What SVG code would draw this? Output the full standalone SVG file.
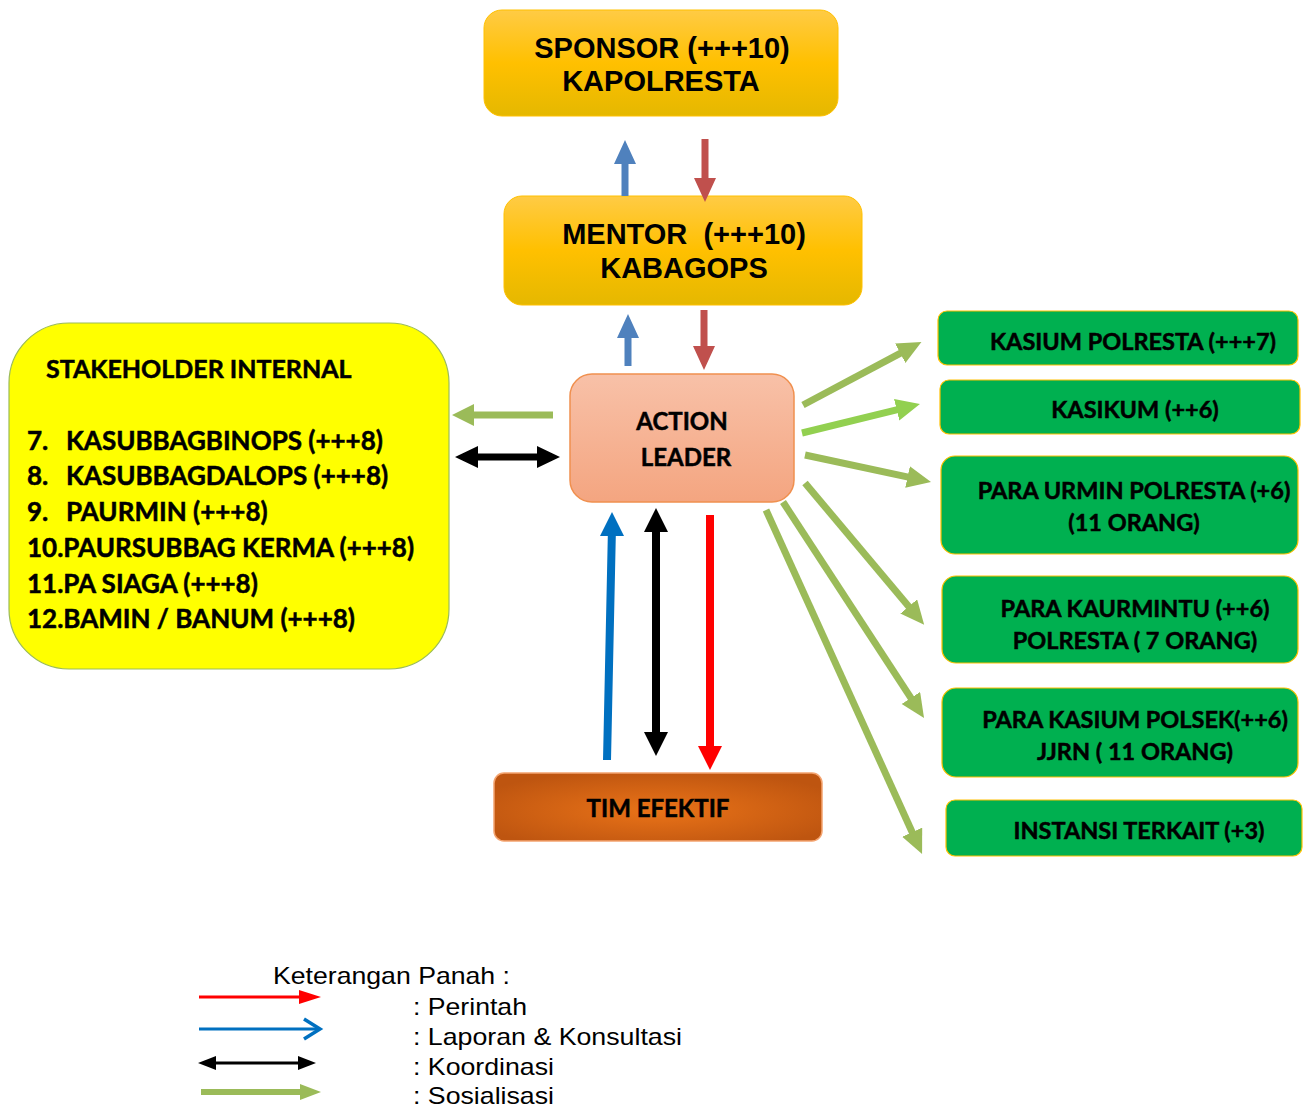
<svg xmlns="http://www.w3.org/2000/svg" width="1304" height="1110" viewBox="0 0 1304 1110">
<defs>
<linearGradient id="gGold" x1="0" y1="0" x2="0" y2="1">
<stop offset="0" stop-color="#FFCB45"/>
<stop offset="0.5" stop-color="#FFC000"/>
<stop offset="1" stop-color="#E5B800"/>
</linearGradient>
<linearGradient id="gPeach" x1="0" y1="0" x2="0" y2="1">
<stop offset="0" stop-color="#F8C1A8"/>
<stop offset="1" stop-color="#F4A580"/>
</linearGradient>
<radialGradient id="gTim" cx="0.5" cy="0.55" r="0.6">
<stop offset="0" stop-color="#EA7318"/>
<stop offset="1" stop-color="#BE5510"/>
</radialGradient>
<marker id="mGreen" markerUnits="userSpaceOnUse" markerWidth="24" markerHeight="24" refX="2" refY="11" orient="auto"><path d="M0,0 L24,11 L0,22 z" fill="#9BBB59"/></marker>
<marker id="mLime" markerUnits="userSpaceOnUse" markerWidth="24" markerHeight="24" refX="2" refY="11" orient="auto"><path d="M0,0 L24,11 L0,22 z" fill="#92D050"/></marker>
<marker id="mLegRed" markerUnits="userSpaceOnUse" markerWidth="24" markerHeight="16" refX="1" refY="7" orient="auto"><path d="M0,0 L22,7 L0,14 z" fill="#FF0000"/></marker>
<marker id="mLegBlack" markerUnits="userSpaceOnUse" markerWidth="22" markerHeight="16" refX="1" refY="7" orient="auto-start-reverse"><path d="M0,0 L18,7 L0,14 z" fill="#000000"/></marker>
<marker id="mLegGreen" markerUnits="userSpaceOnUse" markerWidth="24" markerHeight="18" refX="1" refY="8" orient="auto"><path d="M0,0 L21,8 L0,16 z" fill="#9BBB59"/></marker>
</defs>
<style>
.t1{font-family:"Liberation Sans",Arial,sans-serif;font-weight:bold;font-size:29px;fill:#000;text-anchor:middle}
.t2{font-family:Lato,"Open Sans",sans-serif;font-weight:bold;font-size:24px;fill:#000;stroke:#000;stroke-width:0.5}
.t3{font-size:26px}
.t4{font-size:25px}
.tg{font-size:23.5px}
.tc{text-anchor:middle}
.gbox{fill:#00B050;stroke:#FFC000;stroke-width:1.2}
.leg{font-family:"Liberation Sans",Arial,sans-serif;font-size:24px;fill:#000}
.gr{stroke:#9BBB59;stroke-width:7;fill:none;marker-end:url(#mGreen)}
</style>

<g id="sponsor">
<rect x="484" y="10" width="354" height="106" rx="18" fill="url(#gGold)" stroke="#FFC000" stroke-width="1"/>
<text class="t1" x="662" y="58">SPONSOR (+++10)</text>
<text class="t1" x="661" y="91">KAPOLRESTA</text>
</g>

<g id="mentor">
<rect x="504" y="196" width="358" height="109" rx="18" fill="url(#gGold)" stroke="#FFC000" stroke-width="1"/>
<text class="t1" x="684" y="244" xml:space="preserve">MENTOR  (+++10)</text>
<text class="t1" x="684" y="278">KABAGOPS</text>
</g>

<g id="action-leader">
<rect x="570" y="374" width="224" height="128" rx="22" fill="url(#gPeach)" stroke="#F0904F" stroke-width="1.5"/>
<text class="t2 tc" x="682" y="430">ACTION</text>
<text class="t2 tc" x="686" y="466">LEADER</text>
</g>

<g id="tim-efektif">
<rect x="494" y="773" width="328" height="68" rx="10" fill="url(#gTim)" stroke="#F4A470" stroke-width="1.5"/>
<text class="t2 tc" x="658" y="817">TIM EFEKTIF</text>
</g>

<g id="stakeholder">
<rect x="9" y="323" width="440" height="346" rx="60" fill="#FFFF00" stroke="#9BBB59" stroke-width="1.2"/>
<text class="t2 t4" x="46" y="378">STAKEHOLDER INTERNAL</text>
<text class="t2 t3" x="27" y="450">7.</text><text class="t2 t3" x="66" y="450">KASUBBAGBINOPS (+++8)</text>
<text class="t2 t3" x="27" y="485">8.</text><text class="t2 t3" x="66" y="485">KASUBBAGDALOPS (+++8)</text>
<text class="t2 t3" x="27" y="521">9.</text><text class="t2 t3" x="66" y="521">PAURMIN (+++8)</text>
<text class="t2 t3" x="27" y="557">10.PAURSUBBAG KERMA (+++8)</text>
<text class="t2 t3" x="27" y="593">11.PA SIAGA (+++8)</text>
<text class="t2 t3" x="27" y="628">12.BAMIN / BANUM (+++8)</text>
</g>

<g id="kasium-polresta">
<rect class="gbox" x="938" y="311" width="360" height="54" rx="9"/>
<text class="t2 tg tc" x="1133" y="350">KASIUM POLRESTA (+++7)</text>
</g>
<g id="kasikum">
<rect class="gbox" x="940" y="380" width="360" height="54" rx="9"/>
<text class="t2 tg tc" x="1135" y="418">KASIKUM (++6)</text>
</g>
<g id="para-urmin">
<rect class="gbox" x="941" y="456" width="357" height="98" rx="14"/>
<text class="t2 tg tc" x="1134" y="499">PARA URMIN POLRESTA (+6)</text>
<text class="t2 tg tc" x="1134" y="531">(11 ORANG)</text>
</g>
<g id="para-kaurmintu">
<rect class="gbox" x="942" y="576" width="356" height="87" rx="14"/>
<text class="t2 tg tc" x="1135" y="617">PARA KAURMINTU (++6)</text>
<text class="t2 tg tc" x="1135" y="649">POLRESTA ( 7 ORANG)</text>
</g>
<g id="para-kasium-polsek">
<rect class="gbox" x="942" y="688" width="356" height="89" rx="14"/>
<text class="t2 tg tc" x="1135" y="728">PARA KASIUM POLSEK(++6)</text>
<text class="t2 tg tc" x="1135" y="760">JJRN ( 11 ORANG)</text>
</g>
<g id="instansi-terkait">
<rect class="gbox" x="946" y="800" width="356" height="56" rx="9"/>
<text class="t2 tg tc" x="1139" y="839">INSTANSI TERKAIT (+3)</text>
</g>

<g id="connectors">
<polygon points="621.5,196 628.5,196 628.5,164 636,164 625,140 614,164 621.5,164" fill="#4F81BD"/>
<polygon points="701.5,139 708.5,139 708.5,178 716,178 705,202 694,178 701.5,178" fill="#C0504D"/>
<polygon points="624.5,366 631.5,366 631.5,338 639,338 628,314 617,338 624.5,338" fill="#4F81BD"/>
<polygon points="700.5,310 707.5,310 707.5,346 715,346 704,370 693,346 700.5,346" fill="#C0504D"/>
<polygon points="603,760 611,760 615.8,536 624,536 612,512 600,536 607.8,536" fill="#0070C0"/>
<polygon points="652,532 652,732 644,732 656,756 668,732 660,732 660,532 668,532 656,508 644,532" fill="#000000"/>
<polygon points="706,515 714,515 714,746 722,746 710,770 698,746 706,746" fill="#FF0000"/>
<polygon points="553,411.5 553,418.5 474,418.5 474,426 452,415 474,404 474,411.5" fill="#9BBB59"/>
<polygon points="478,453.5 537,453.5 537,446 560,457 537,468 537,460.5 478,460.5 478,468 455,457 478,446" fill="#000000"/>
<line class="gr" x1="803" y1="405" x2="902" y2="352.4"/>
<line x1="802" y1="433" x2="898.6" y2="409.3" stroke="#92D050" stroke-width="7" marker-end="url(#mLime)"/>
<line class="gr" x1="805" y1="455" x2="909.5" y2="477.4"/>
<line class="gr" x1="805" y1="483" x2="910" y2="608"/>
<line class="gr" x1="783" y1="502" x2="912" y2="699.6"/>
<line class="gr" x1="766" y1="510" x2="913" y2="834"/>
</g>

<g id="legend">
<text class="leg" x="273" y="984" textLength="237" lengthAdjust="spacingAndGlyphs">Keterangan Panah :</text>
<text class="leg" x="413" y="1015" textLength="114" lengthAdjust="spacingAndGlyphs">: Perintah</text>
<text class="leg" x="413" y="1045" textLength="269" lengthAdjust="spacingAndGlyphs">: Laporan &amp; Konsultasi</text>
<text class="leg" x="413" y="1075" textLength="141" lengthAdjust="spacingAndGlyphs">: Koordinasi</text>
<text class="leg" x="413" y="1104" textLength="141" lengthAdjust="spacingAndGlyphs">: Sosialisasi</text>
<line x1="199" y1="997" x2="300" y2="997" stroke="#FF0000" stroke-width="3" marker-end="url(#mLegRed)"/>
<line x1="199" y1="1029" x2="320" y2="1029" stroke="#0070C0" stroke-width="3"/>
<polyline points="304,1019 320,1029 304,1039" fill="none" stroke="#0070C0" stroke-width="3.5"/>
<line x1="215" y1="1063" x2="299" y2="1063" stroke="#000" stroke-width="3" marker-start="url(#mLegBlack)" marker-end="url(#mLegBlack)"/>
<line x1="201" y1="1092" x2="301" y2="1092" stroke="#9BBB59" stroke-width="6" marker-end="url(#mLegGreen)"/>
</g>
</svg>
